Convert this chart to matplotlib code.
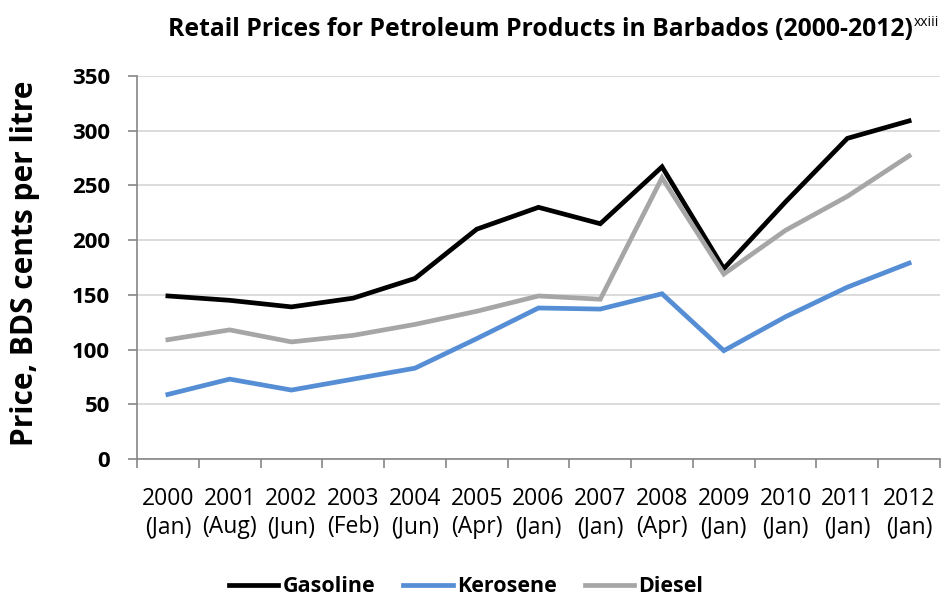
import numpy as np
import matplotlib
matplotlib.use('Agg')
import matplotlib.pyplot as plt
from matplotlib.ticker import FixedLocator

plt.rcParams['font.family'] = ['Open Sans', 'DejaVu Sans']

# categories (year + month of price change)
years = ['2000', '2001', '2002', '2003', '2004', '2005', '2006',
         '2007', '2008', '2009', '2010', '2011', '2012']
months = ['Jan', 'Aug', 'Jun', 'Feb', 'Jun', 'Apr', 'Jan',
          'Jan', 'Apr', 'Jan', 'Jan', 'Jan', 'Jan']

# prices, BDS cents per litre
gasoline = [149, 145, 139, 147, 165, 210, 230, 215, 267, 174, 235, 293, 309]
kerosene = [59, 73, 63, 73, 83, 110, 138, 137, 151, 99, 130, 157, 179]
diesel = [109, 118, 107, 113, 123, 135, 149, 146, 257, 169, 209, 240, 277]

W, H = 941, 597
fig = plt.figure(figsize=(W / 100, H / 100), dpi=100)
ax = fig.add_axes([137 / W, 1 - 459 / H, (940 - 137) / W, (459 - 76) / H])

x = np.arange(len(years))
ax.plot(x, gasoline, color='#000000', lw=3.4, label='Gasoline', solid_joinstyle='miter')
ax.plot(x, kerosene, color='#558ED5', lw=3.4, label='Kerosene', solid_joinstyle='miter')
ax.plot(x, diesel, color='#A6A6A6', lw=3.4, label='Diesel', solid_joinstyle='miter')

ax.set_xlim(-0.5, len(years) - 0.5)
ax.set_ylim(0, 350)
ax.set_yticks(np.arange(0, 351, 50))
ax.grid(axis='y', color='#D9D9D9', lw=1.3)
ax.set_axisbelow(True)

for s in ['top', 'right']:
    ax.spines[s].set_visible(False)
for s in ['left', 'bottom']:
    ax.spines[s].set_color('#868686')
    ax.spines[s].set_linewidth(1.2)

# category labels in the middle, tick marks on the boundaries
ax.set_xticks(x)
ax.set_xticklabels([f'{y}\n({m})' for y, m in zip(years, months)], fontsize=16.5,
                   linespacing=1.25)
ax.xaxis.set_minor_locator(FixedLocator(np.arange(-0.5, len(years), 1.0)))
ax.tick_params(axis='x', which='major', length=0, pad=20)
ax.tick_params(axis='x', which='minor', length=6.5, width=1.2, color='#868686', direction='out')
ax.tick_params(axis='y', length=6.5, width=1.2, color='#868686', labelsize=16, pad=13)
for t in ax.get_yticklabels():
    t.set_fontweight('bold')

ax.set_ylabel('Price, BDS cents per litre', fontsize=21.5, fontweight='bold')
ax.yaxis.set_label_coords((40 - 137) / (940 - 137), 0.51)

fig.legend(loc='center', bbox_to_anchor=(466 / W, 1 - 587 / H), ncol=3, frameon=False,
           prop={'size': 15.5, 'weight': 'bold'}, handlelength=2.3, handletextpad=0.2,
           columnspacing=1.3)

title = fig.text(540 / W, 1 - 30 / H,
                 'Retail Prices for Petroleum Products in Barbados (2000-2012)',
                 ha='center', va='center', fontsize=17.8, fontweight='bold')
fig.canvas.draw()
bb = title.get_window_extent()
fig.text((bb.x1 + 1) / W, (bb.y1 - 5) / H, 'xxiii', ha='left', va='center', fontsize=10)

fig.savefig('out.png', dpi=100)
